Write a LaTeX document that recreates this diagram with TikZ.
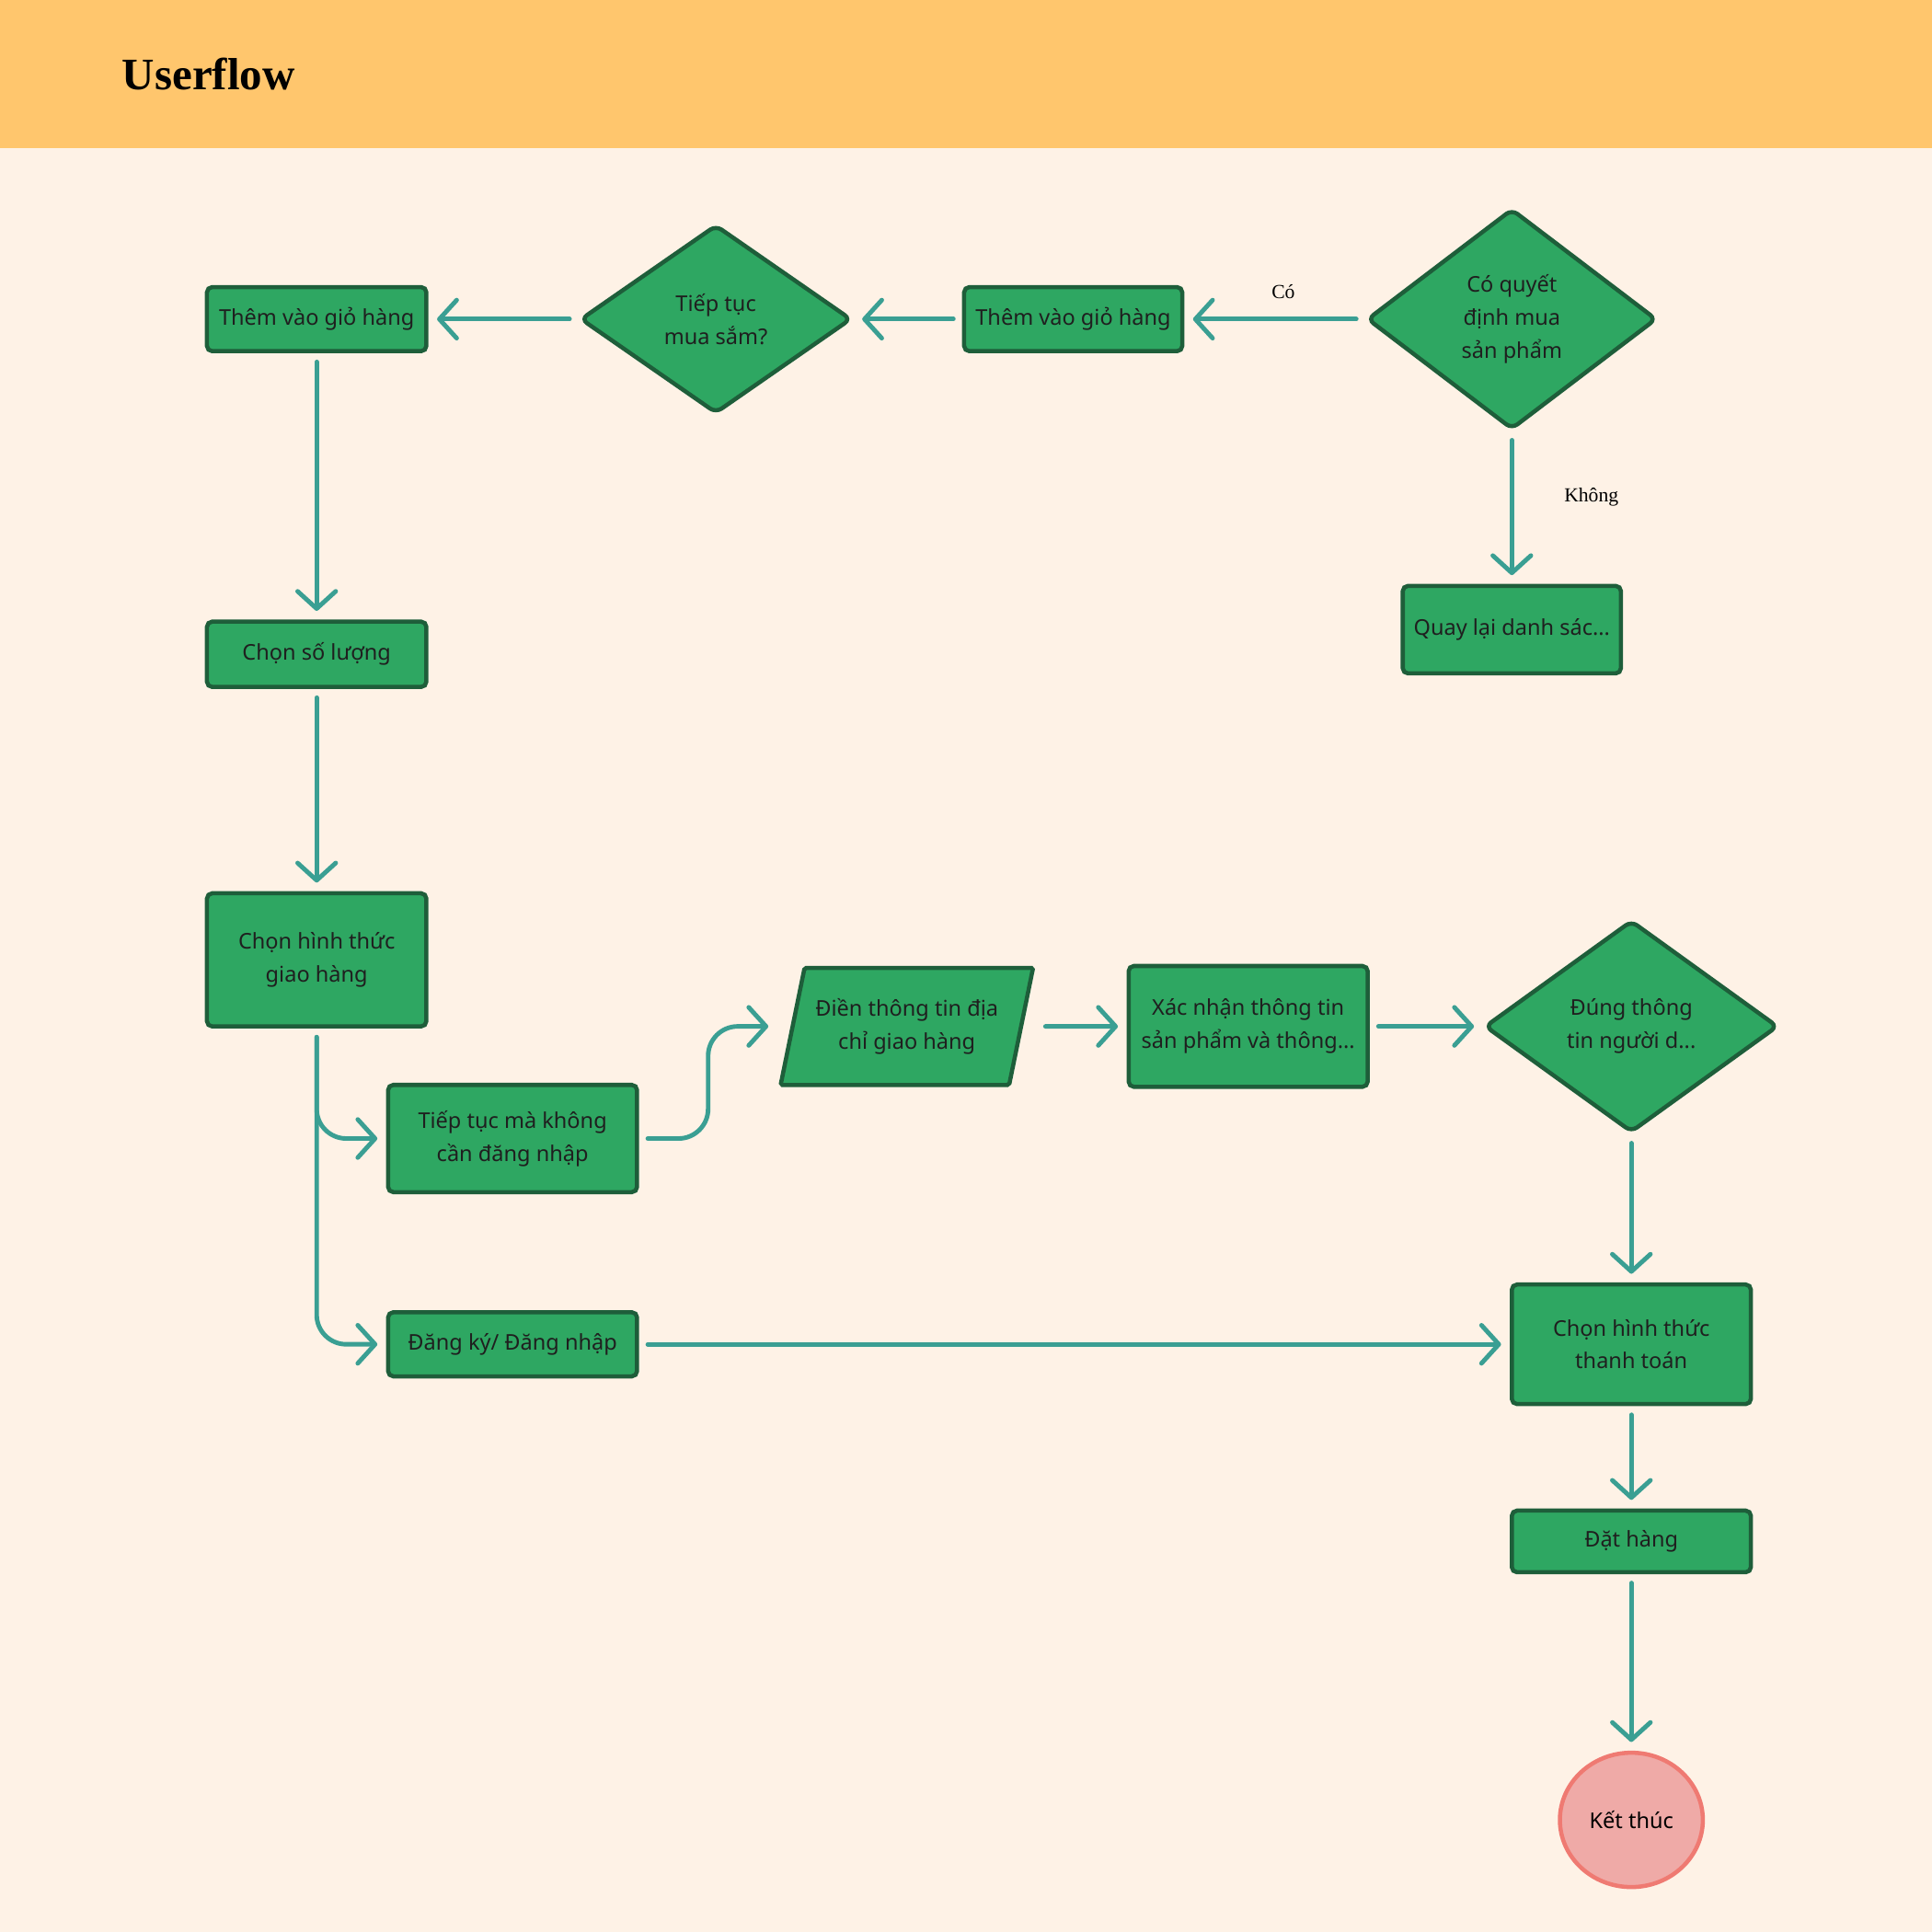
\documentclass[tikz,border=0pt]{standalone}
\usepackage{fontspec}
\setmainfont{Noto Sans}
\newfontfamily\titlefont{Liberation Serif}
\usetikzlibrary{shapes.geometric,arrows.meta}

\definecolor{headbg}{HTML}{FFC66D}
\definecolor{pagebg}{HTML}{FEF2E6}
\definecolor{boxfill}{HTML}{2EA762}
\definecolor{boxline}{HTML}{1E5E3A}
\definecolor{flowline}{HTML}{3A9F93}
\definecolor{endfill}{HTML}{EFAAA7}
\definecolor{endline}{HTML}{EF7A72}

\begin{document}
\begin{tikzpicture}[x=0.025cm, y=-0.025cm,
    box/.style = {draw=boxline, fill=boxfill, line width=2.4pt, rounded corners=3pt, align=center, inner sep=0pt, text=black!88, font=\fontsize{12.5}{19}\selectfont},
    choice/.style = {box, diamond, rounded corners=4pt},
    io/.style = {box, trapezium, trapezium left angle=69, trapezium right angle=111, trapezium stretches=true, rounded corners=1pt},
    stop/.style = {ellipse, draw=endline, fill=endfill, line width=2.4pt, inner sep=0pt, text=black, font=\fontsize{12.5}{19}\selectfont},
    flow/.style = {draw=flowline, line width=2.6pt, line cap=round, shorten <=5pt, shorten >=5pt, -{Straight Barb[length=10pt, width=22pt, round]}},
    lbl/.style = {font=\titlefont\fontsize{11.5}{14}\selectfont, text=black}]

    \useasboundingbox (0,0) rectangle (1568,1568);
    \fill[pagebg] (0,0) rectangle (1568,1568);
    \fill[headbg] (0,0) rectangle (1568,120);
    \node[anchor=west, inner sep=0pt, font=\titlefont\bfseries\fontsize{26}{30}\selectfont] (title) at (99,60) {Userflow};

    \node[box, minimum width=4.45cm, minimum height=1.3cm] (cart) at (257,259) {Thêm vào giỏ hàng};
    \node[choice, minimum width=5.5cm, minimum height=3.825cm] (more) at (581,259) {Tiếp tục\\mua sắm?};
    \node[box, minimum width=4.425cm, minimum height=1.3cm] (add) at (871,259) {Thêm vào giỏ hàng};
    \node[choice, minimum width=5.875cm, minimum height=4.475cm] (buy) at (1227,259) {Có quyết\\định mua\\sản phẩm};
    \node[box, minimum width=4.425cm, minimum height=1.775cm] (back) at (1227,511) {Quay lại danh sác...};

    \node[box, minimum width=4.45cm, minimum height=1.325cm] (qty) at (257,531) {Chọn số lượng};
    \node[box, minimum width=4.45cm, minimum height=2.7cm] (ship) at (257,779) {Chọn hình thức\\giao hàng};

    \node[box, minimum width=5.05cm, minimum height=2.175cm] (guest) at (416,924) {Tiếp tục mà không\\cần đăng nhập};
    \node[io, minimum width=5.125cm, minimum height=2.375cm] (addr) at (736,833) {Điền thông tin địa\\chỉ giao hàng};
    \node[box, minimum width=4.85cm, minimum height=2.45cm] (check) at (1013,833) {Xác nhận thông tin\\sản phẩm và thông...};
    \node[choice, minimum width=5.95cm, minimum height=4.3cm] (valid) at (1324,833) {Đúng thông\\tin người d...};

    \node[box, minimum width=5.05cm, minimum height=1.3cm] (login) at (416,1091) {Đăng ký/ Đăng nhập};
    \node[box, minimum width=4.85cm, minimum height=2.425cm] (pay) at (1324,1091) {Chọn hình thức\\thanh toán};
    \node[box, minimum width=4.85cm, minimum height=1.25cm] (order) at (1324,1251) {Đặt hàng};
    \node[stop, minimum width=2.9cm, minimum height=2.725cm] (done) at (1324,1477) {Kết thúc};

    \draw[flow] (buy.west) -- node[lbl, above=7pt, xshift=5pt] {Có} (add.east);
    \draw[flow] (buy.south) -- node[lbl, pos=0.43, right=0.9cm] {Không} (back.north);
    \draw[flow] (add.west) -- (more.east);
    \draw[flow] (more.west) -- (cart.east);
    \draw[flow] (cart.south) -- (qty.north);
    \draw[flow] (qty.south) -- (ship.north);
    \draw[flow, rounded corners=0.6cm] (ship.south) |- (guest.west);
    \draw[flow, rounded corners=0.6cm] (ship.south) |- (login.west);
    \draw[flow, rounded corners=0.6cm, shorten >=0.45cm] (guest.east) -- ++(56,0) |- (addr.west);
    \draw[flow, shorten <=0.45cm] (addr.east) -- (check.west);
    \draw[flow] (check.east) -- (valid.west);
    \draw[flow] (valid.south) -- (pay.north);
    \draw[flow] (login.east) -- (pay.west);
    \draw[flow] (pay.south) -- (order.north);
    \draw[flow] (order.south) -- (done.north);

\end{tikzpicture}
\end{document}
